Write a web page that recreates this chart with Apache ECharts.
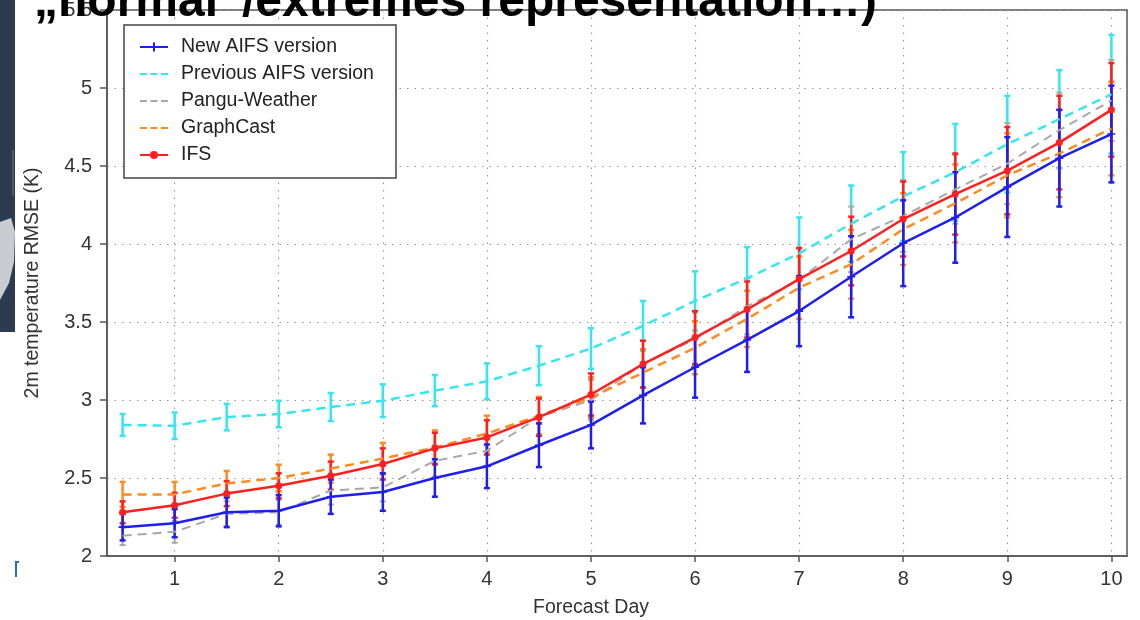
<!DOCTYPE html>
<html>
<head>
<meta charset="utf-8">
<script src="https://cdn.jsdelivr.net/npm/echarts@6/dist/echarts.min.js"></script>
<style>
html,body{margin:0;padding:0;background:#fff;}
#chart{width:1140px;height:620px;}
</style>
</head>
<body>
<div id="chart"></div>
<script>
const days = [0.5,1,1.5,2,2.5,3,3.5,4,4.5,5,5.5,6,6.5,7,7.5,8,8.5,9,9.5,10];
const xTickDays = [1,2,3,4,5,6,7,8,9,10];

const seriesNames = ['New AIFS version','Previous AIFS version','Pangu-Weather','GraphCast','IFS'];

const newAifs    = [2.185,2.21,2.28,2.29,2.38,2.41,2.50,2.575,2.71,2.84,3.03,3.21,3.385,3.57,3.79,4.005,4.17,4.365,4.55,4.705];
const newAifsErr = [0.085,0.09,0.095,0.10,0.11,0.12,0.12,0.14,0.14,0.15,0.18,0.195,0.205,0.225,0.26,0.275,0.29,0.32,0.31,0.31];

const prevAifs    = [2.84,2.835,2.89,2.91,2.955,2.995,3.06,3.12,3.22,3.33,3.475,3.635,3.78,3.94,4.13,4.305,4.46,4.64,4.80,4.96];
const prevAifsErr = [0.07,0.085,0.085,0.085,0.09,0.105,0.10,0.115,0.125,0.13,0.16,0.19,0.20,0.23,0.245,0.285,0.31,0.31,0.315,0.38];

const pangu    = [2.13,2.155,2.27,2.28,2.42,2.44,2.61,2.675,2.89,3.00,3.23,3.39,3.60,3.77,4.03,4.18,4.35,4.515,4.73,4.92];
const panguErr = [0.06,0.07,0.08,0.08,0.09,0.09,0.10,0.10,0.12,0.13,0.15,0.17,0.18,0.20,0.21,0.23,0.22,0.26,0.24,0.26];

const graphcast    = [2.395,2.395,2.465,2.50,2.56,2.625,2.695,2.785,2.90,3.015,3.175,3.335,3.52,3.72,3.87,4.095,4.26,4.44,4.58,4.74];
const graphcastErr = [0.08,0.08,0.08,0.085,0.09,0.10,0.11,0.115,0.12,0.13,0.15,0.17,0.18,0.20,0.22,0.23,0.25,0.27,0.28,0.30];

const ifs    = [2.28,2.325,2.40,2.45,2.515,2.59,2.69,2.76,2.89,3.035,3.23,3.40,3.58,3.775,3.955,4.16,4.32,4.47,4.65,4.86];
const ifsErr = [0.07,0.08,0.08,0.08,0.09,0.10,0.10,0.11,0.12,0.135,0.15,0.17,0.18,0.20,0.22,0.24,0.26,0.28,0.30,0.30];

const titleText = '„normal“/extremes representation…)';
const xName = 'Forecast Day';
const yName = '2m temperature RMSE (K)';

const FONT = '"Liberation Sans", Arial, sans-serif';
const C_BLUE = '#1e1ef0', C_CYAN = '#35e6ef', C_GREY = '#a8a8a8', C_ORANGE = '#ff8a1e', C_RED = '#ff1f1f';

const ICON_PLUS = 'path://M0,0M28,14M0,6h28v2h-28zM13,2.5h2v9h-2z';
const ICON_DASH = 'path://M0,0M28,14M0,6h7v2h-7zM10.5,6h7v2h-7zM21,6h7v2h-7z';
const ICON_DOT  = 'path://M0,0M28,14M0,6h10v2h-10zM18,6h10v2h-10zM10,7a4,4 0 1,0 8,0a4,4 0 1,0 -8,0z';
const legendIcons = [ICON_PLUS, ICON_DASH, ICON_DASH, ICON_DASH, ICON_DOT];

function pairs(vals){ return days.map((d,i)=>[d, vals[i]]); }
function errData(vals, errs){ return days.map((d,i)=>[d, vals[i]-errs[i], vals[i]+errs[i]]); }
function errSeries(name, vals, errs, color, width, z){
  return {
    type:'custom', name:name, z:z, silent:true,
    encode:{x:0, y:[1,2]},
    data: errData(vals, errs),
    renderItem: function(params, api){
      const x = api.value(0), lo = api.value(1), hi = api.value(2);
      const p1 = api.coord([x, lo]), p2 = api.coord([x, hi]);
      const cap = 3;
      const st = {stroke: color, lineWidth: width};
      return {type:'group', children:[
        {type:'line', shape:{x1:p1[0],y1:p1[1],x2:p2[0],y2:p2[1]}, style:st},
        {type:'line', shape:{x1:p1[0]-cap,y1:p1[1],x2:p1[0]+cap,y2:p1[1]}, style:st},
        {type:'line', shape:{x1:p2[0]-cap,y1:p2[1],x2:p2[0]+cap,y2:p2[1]}, style:st}
      ]};
    }
  };
}
const plusPath = 'path://M4,0h2v4h4v2h-4v4h-2v-4h-4v-2h4z';

const chart = echarts.init(document.getElementById('chart'), null, {renderer:'canvas'});
const option = {
  animation:false,
  backgroundColor:'#ffffff',
  textStyle:{fontFamily:FONT},
  grid:{left:107, right:13, top:8, bottom:64, show:true, borderColor:'#555', borderWidth:1.5, backgroundColor:'transparent'},
  xAxis:{
    type:'value', min:0.35, max:10.15,
    axisLine:{show:true, lineStyle:{color:'#555', width:1.5}},
    axisTick:{show:true, inside:false, length:6, customValues:xTickDays, lineStyle:{color:'#555', width:1.5}},
    axisLabel:{customValues:xTickDays, color:'#333', fontSize:20, fontFamily:FONT, margin:13},
    splitLine:{show:true, lineStyle:{color:'#999', width:1.2, type:[1.5,6]}}
  },
  yAxis:{
    type:'value', min:2, max:5.5, interval:0.5,
    name:yName, nameLocation:'middle', nameGap:64,
    nameTextStyle:{color:'#333', fontSize:19.5, fontFamily:FONT},
    axisLine:{show:true, lineStyle:{color:'#555', width:1.5}},
    axisTick:{show:true, inside:false, length:7, lineStyle:{color:'#555', width:1.5}},
    axisLabel:{color:'#333', fontSize:20, fontFamily:FONT, margin:15},
    splitLine:{show:true, lineStyle:{color:'#999', width:1.2, type:[1.5,6]}}
  },
  legend:{
    data:seriesNames.map((n,i)=>({name:n, icon:legendIcons[i]})),
    orient:'vertical', left:140, top:37, z:20,
    itemWidth:28, itemHeight:14, itemGap:7, padding:0,
    textStyle:{color:'#222', fontSize:19.5, fontFamily:FONT, padding:[0,0,0,8]}
  },
  graphic:[
    {type:'rect', z:10, shape:{x:124, y:25, width:272, height:153}, style:{fill:'#fff', stroke:'#444', lineWidth:1.5}},
    {type:'rect', z:100, shape:{x:0, y:0, width:15, height:332}, style:{fill:'#2d3b50'}},
    {type:'polygon', z:101, shape:{points:[[0,222],[11,218],[15,232],[14,262],[9,283],[0,300]]}, style:{fill:'#c9ccd1'}},
    {type:'line', z:101, shape:{x1:13, y1:150, x2:13, y2:196}, style:{stroke:'#6a7586', lineWidth:1}},
    {type:'polyline', z:101, shape:{points:[[16,577],[16,562],[19,562]]}, style:{stroke:'#1b75bc', lineWidth:2, fill:null}},
    {type:'text', z:100, x:591, y:608, style:{text:xName, fill:'#333', font:'19.5px ' + FONT, align:'center', verticalAlign:'middle'}},
    {type:'text', z:120, x:34, y:3, style:{text:titleText, fill:'#000', font:'bold 48px ' + FONT, align:'left', verticalAlign:'middle'}}
  ],
  series:[
    errSeries('err-prev', prevAifs, prevAifsErr, C_CYAN, 2.5, 3),
    errSeries('err-pangu', pangu, panguErr, C_GREY, 2, 3),
    errSeries('err-gc', graphcast, graphcastErr, C_ORANGE, 2.5, 3),
    errSeries('err-ifs', ifs, ifsErr, C_RED, 2.5, 3),
    errSeries('err-new', newAifs, newAifsErr, C_BLUE, 2.5, 3),
    {type:'line', name:'Previous AIFS version', z:4, data:pairs(prevAifs), symbol:'none', color:C_CYAN,
      itemStyle:{color:C_CYAN}, lineStyle:{color:C_CYAN, width:2.5, type:[9,6]}},
    {type:'line', name:'Pangu-Weather', z:4, data:pairs(pangu), symbol:'none', color:C_GREY,
      itemStyle:{color:C_GREY}, lineStyle:{color:C_GREY, width:2, type:[9,6]}},
    {type:'line', name:'GraphCast', z:4, data:pairs(graphcast), symbol:'none', color:C_ORANGE,
      itemStyle:{color:C_ORANGE}, lineStyle:{color:C_ORANGE, width:2.5, type:[9,6]}},
    {type:'line', name:'IFS', z:5, data:pairs(ifs), symbol:'circle', symbolSize:7, showSymbol:true, color:C_RED,
      itemStyle:{color:C_RED}, lineStyle:{color:C_RED, width:2.5}},
    {type:'line', name:'New AIFS version', z:6, data:pairs(newAifs), symbol:plusPath, symbolSize:8, showSymbol:true, color:C_BLUE,
      itemStyle:{color:C_BLUE}, lineStyle:{color:C_BLUE, width:2.5}}
  ]
};
chart.setOption(option);
</script>
</body>
</html>
